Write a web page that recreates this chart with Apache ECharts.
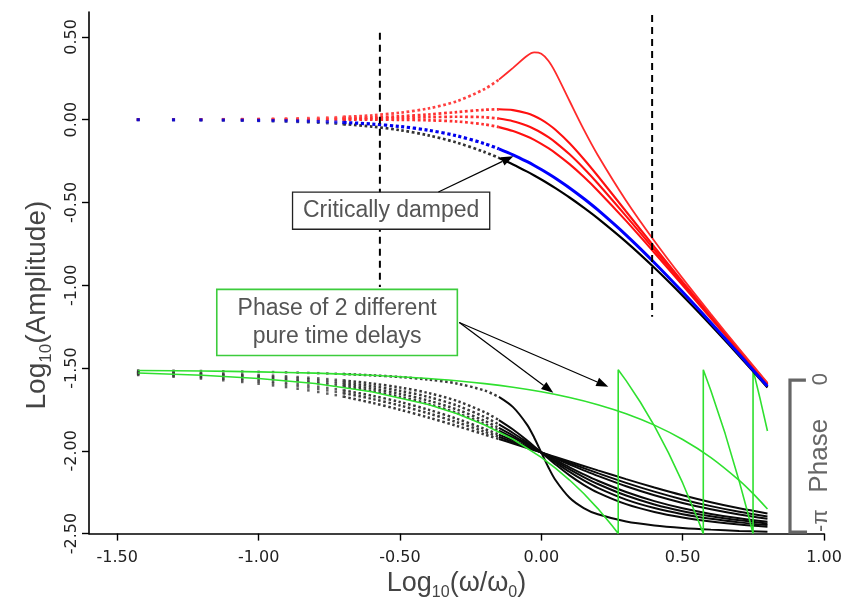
<!DOCTYPE html>
<html><head><meta charset="utf-8">
<script src="https://cdn.jsdelivr.net/npm/echarts@6/dist/echarts.min.js"></script>
<style>html,body{margin:0;padding:0;background:#fff}#c{width:846px;height:606px}</style>
</head><body><div id="c"></div>
<script>
// ---------- data ----------
const xTicks = [-1.5, -1.0, -0.5, 0, 0.5, 1.0];
const yTicks = [-2.5, -2.0, -1.5, -1.0, -0.5, 0, 0.5];

// sparse dotted region: log10(w/w0)
const sparseLogW = [-1.426, -1.301, -1.204, -1.125, -1.058, -1.0, -0.949, -0.903, -0.862, -0.824, -0.789, -0.757, -0.727, -0.699];
// dense region: log10(w/w0)
const lineLogW = [-0.7, -0.6, -0.5, -0.4, -0.3, -0.2, -0.15, -0.1, -0.05, -0.025, 0, 0.025, 0.05, 0.1, 0.15, 0.2, 0.3, 0.4, 0.5, 0.6, 0.7, 0.8];

// amplitude curves (red = under-damped, blue = critically damped, black = over-damped)
const ampRed1Sparse = [0.0006, 0.0010, 0.0016, 0.0022, 0.0031, 0.0040, 0.0051, 0.0063, 0.0076, 0.0091, 0.0107, 0.0124, 0.0142, 0.0162];
const ampRed1 = [0.0161, 0.0258, 0.0415, 0.0673, 0.1106, 0.1853, 0.2414, 0.3125, 0.3856, 0.4056, 0.3979, 0.3556, 0.2856, 0.1125, -0.0586, -0.2147, -0.4894, -0.7327, -0.9585, -1.1742, -1.3839, -1.5899];
const ampRed2Sparse = [0.0003, 0.0005, 0.0008, 0.0012, 0.0017, 0.0022, 0.0027, 0.0034, 0.0041, 0.0048, 0.0057, 0.0065, 0.0075, 0.0085];
const ampRed2 = [0.0085, 0.0132, 0.0205, 0.0311, 0.0453, 0.0595, 0.0625, 0.0576, 0.0387, 0.0221, 0.0000, -0.0279, -0.0613, -0.1424, -0.2375, -0.3405, -0.5548, -0.7689, -0.9795, -1.1868, -1.3915, -1.5946];
const ampRed3Sparse = [0.0002, 0.0003, 0.0005, 0.0007, 0.0009, 0.0012, 0.0015, 0.0019, 0.0022, 0.0026, 0.0031, 0.0035, 0.0040, 0.0046];
const ampRed3 = [0.0045, 0.0069, 0.0102, 0.0143, 0.0175, 0.0145, 0.0065, -0.0095, -0.0371, -0.0562, -0.0792, -0.1062, -0.1371, -0.2095, -0.2935, -0.3855, -0.5825, -0.7857, -0.9898, -1.1931, -1.3955, -1.5971];
const ampRed4Sparse = [0.0000, 0.0000, 0.0000, 0.0000, 0.0000, 0.0001, 0.0001, 0.0001, 0.0001, 0.0001, 0.0001, 0.0001, 0.0000, 0.0000];
const ampRed4 = [0.0000, -0.0003, -0.0013, -0.0040, -0.0112, -0.0289, -0.0452, -0.0688, -0.1019, -0.1226, -0.1461, -0.1726, -0.2019, -0.2688, -0.3452, -0.4289, -0.6112, -0.8040, -1.0013, -1.2003, -1.4000, -1.5999];
const ampBlueSparse = [-0.0006, -0.0011, -0.0017, -0.0024, -0.0033, -0.0043, -0.0055, -0.0067, -0.0081, -0.0097, -0.0113, -0.0131, -0.0150, -0.0170];
const ampBlue = [-0.0170, -0.0266, -0.0414, -0.0639, -0.0973, -0.1455, -0.1764, -0.2124, -0.2539, -0.2767, -0.3010, -0.3267, -0.3539, -0.4124, -0.4764, -0.5455, -0.6973, -0.8639, -1.0414, -1.2266, -1.4170, -1.6108];
const ampBlackSparse = [-0.0010, -0.0018, -0.0028, -0.0040, -0.0054, -0.0071, -0.0089, -0.0109, -0.0132, -0.0156, -0.0182, -0.0210, -0.0240, -0.0272];
const ampBlack = [-0.0270, -0.0417, -0.0634, -0.0947, -0.1382, -0.1962, -0.2312, -0.2704, -0.3139, -0.3373, -0.3617, -0.3873, -0.4139, -0.4704, -0.5312, -0.5962, -0.7382, -0.8947, -1.0634, -1.2417, -1.4270, -1.6174];

// phase curves (plotted on the same axis, 0 .. -pi)
const ph1Sparse = [-1.5148, -1.5164, -1.5180, -1.5196, -1.5212, -1.5229, -1.5245, -1.5262, -1.5278, -1.5295, -1.5312, -1.5329, -1.5347, -1.5365];
const ph1 = [-1.5364, -1.5440, -1.5545, -1.5695, -1.5933, -1.6364, -1.6744, -1.7363, -1.8434, -1.9208, -2.0100, -2.0992, -2.1766, -2.2837, -2.3456, -2.3836, -2.4267, -2.4505, -2.4656, -2.4760, -2.4836, -2.4893];
const ph2Sparse = [-1.5219, -1.5259, -1.5299, -1.5340, -1.5380, -1.5420, -1.5461, -1.5502, -1.5543, -1.5585, -1.5626, -1.5669, -1.5711, -1.5754];
const ph2 = [-1.5752, -1.5934, -1.6176, -1.6507, -1.6978, -1.7675, -1.8146, -1.8716, -1.9378, -1.9735, -2.0100, -2.0465, -2.0822, -2.1484, -2.2054, -2.2525, -2.3223, -2.3694, -2.4025, -2.4266, -2.4448, -2.4587];
const ph3Sparse = [-1.5243, -1.5291, -1.5339, -1.5387, -1.5436, -1.5484, -1.5533, -1.5581, -1.5630, -1.5680, -1.5729, -1.5779, -1.5829, -1.5880];
const ph3 = [-1.5878, -1.6091, -1.6370, -1.6744, -1.7254, -1.7962, -1.8410, -1.8924, -1.9495, -1.9795, -2.0100, -2.0405, -2.0705, -2.1276, -2.1790, -2.2238, -2.2946, -2.3457, -2.3830, -2.4109, -2.4322, -2.4487];
const ph4Sparse = [-1.5267, -1.5323, -1.5379, -1.5435, -1.5491, -1.5547, -1.5604, -1.5660, -1.5717, -1.5774, -1.5831, -1.5888, -1.5946, -1.6003];
const ph4 = [-1.6001, -1.6243, -1.6555, -1.6962, -1.7497, -1.8196, -1.8616, -1.9080, -1.9580, -1.9839, -2.0100, -2.0361, -2.0620, -2.1120, -2.1584, -2.2004, -2.2703, -2.3238, -2.3645, -2.3957, -2.4199, -2.4388];
const ph5Sparse = [-1.5291, -1.5355, -1.5418, -1.5482, -1.5546, -1.5610, -1.5674, -1.5738, -1.5802, -1.5866, -1.5931, -1.5995, -1.6060, -1.6124];
const ph5 = [-1.6122, -1.6390, -1.6730, -1.7162, -1.7709, -1.8389, -1.8780, -1.9201, -1.9644, -1.9871, -2.0100, -2.0329, -2.0556, -2.1000, -2.1420, -2.1811, -2.2491, -2.3038, -2.3470, -2.3810, -2.4078, -2.4290];
const ph6Sparse = [-1.5339, -1.5418, -1.5497, -1.5577, -1.5656, -1.5735, -1.5813, -1.5892, -1.5970, -1.6048, -1.6126, -1.6203, -1.6280, -1.6357];
const ph6 = [-1.6354, -1.6667, -1.7050, -1.7513, -1.8058, -1.8683, -1.9022, -1.9374, -1.9734, -1.9917, -2.0100, -2.0283, -2.0466, -2.0827, -2.1178, -2.1517, -2.2142, -2.2687, -2.3150, -2.3533, -2.3846, -2.4099];
const ph7Sparse = [-1.5374, -1.5465, -1.5556, -1.5647, -1.5737, -1.5827, -1.5916, -1.6005, -1.6093, -1.6180, -1.6267, -1.6353, -1.6438, -1.6522];
const ph7 = [-1.6519, -1.6859, -1.7264, -1.7734, -1.8266, -1.8849, -1.9154, -1.9466, -1.9782, -1.9941, -2.0100, -2.0259, -2.0418, -2.0734, -2.1046, -2.1351, -2.1934, -2.2466, -2.2937, -2.3341, -2.3681, -2.3961];
const ph8Sparse = [-1.5422, -1.5528, -1.5634, -1.5740, -1.5844, -1.5948, -1.6050, -1.6151, -1.6252, -1.6350, -1.6448, -1.6544, -1.6638, -1.6731];
const ph8 = [-1.6728, -1.7095, -1.7516, -1.7986, -1.8491, -1.9019, -1.9288, -1.9558, -1.9829, -1.9964, -2.0100, -2.0236, -2.0371, -2.0642, -2.0913, -2.1181, -2.1709, -2.2214, -2.2684, -2.3106, -2.3473, -2.3783];

// phase of two pure time delays (green)
const delay1LogW = [-1.426, -1.2, -1.0, -0.8, -0.6, -0.4, -0.3, -0.2, -0.1, 0, 0.1, 0.2, 0.3, 0.4, 0.5, 0.6, 0.7, 0.75, 0.8];
const delay1 = [-1.515, -1.5184, -1.5233, -1.5311, -1.5435, -1.5631, -1.5768, -1.5941, -1.6159, -1.6433, -1.6779, -1.7213, -1.776, -1.8449, -1.9316, -2.0408, -2.1783, -2.2598, -2.3513];
const delay2LogW = [-1.426, -1.2, -1.0, -0.8, -0.6, -0.4, -0.3, -0.2, -0.1, 0, 0.05, 0.1, 0.15, 0.2, 0.25, 0.272, 0.272, 0.3, 0.35, 0.4, 0.45, 0.5, 0.55, 0.573, 0.573, 0.6, 0.65, 0.7, 0.73, 0.749, 0.749, 0.775, 0.8];
const delay2 = [-1.5299, -1.5434, -1.5629, -1.5939, -1.643, -1.7208, -1.7753, -1.844, -1.9305, -2.0394, -2.104, -2.1765, -2.2578, -2.349, -2.4514, -2.5, -1.51, -1.5763, -1.7051, -1.8498, -2.012, -2.1941, -2.3983, -2.5, -1.51, -1.6376, -1.8947, -2.1833, -2.373, -2.5, -1.51, -1.6935, -1.8804];

// vertical dashed markers: [x, yTop, yBottom]
const markerLeft = [-0.571, 0.525, -1.011];
const markerRight = [0.392, 0.632, -1.191];

// ---------- chart ----------
const SPLIT_X = -0.15;
const FONT = '"Liberation Sans", Arial, sans-serif';
const TICKFONT = '"DejaVu Sans", sans-serif';
const series = [];

function addCurve(sparse, line, color, dotColor, w, dotSize) {
  series.push({
    type: 'scatter', silent: true, symbol: 'rect', symbolSize: dotSize,
    data: sparseLogW.map((x, i) => [x, sparse[i]]),
    itemStyle: { color: dotColor }
  });
  const pts = lineLogW.map((x, i) => [x, line[i]]);
  series.push({
    type: 'line', silent: true, symbol: 'none', smooth: 0.3,
    data: pts.filter(p => p[0] <= SPLIT_X),
    lineStyle: { color: dotColor, width: dotSize, type: [dotSize, 2.6], cap: 'butt' }
  });
  series.push({
    type: 'line', silent: true, symbol: 'none', smooth: 0.3,
    data: pts.filter(p => p[0] >= SPLIT_X),
    lineStyle: { color: color, width: w }
  });
}

// phase curves
[[ph1Sparse, ph1], [ph2Sparse, ph2], [ph3Sparse, ph3], [ph4Sparse, ph4],
 [ph5Sparse, ph5], [ph6Sparse, ph6], [ph7Sparse, ph7], [ph8Sparse, ph8]]
  .forEach(c => addCurve(c[0], c[1], '#0a0a0a', '#3a3a3a', 2.0, 2.5));

// green delays
series.push({
  type: 'line', silent: true, symbol: 'none', smooth: 0.3,
  data: delay1LogW.map((x, i) => [x, delay1[i]]),
  lineStyle: { color: '#2fe02f', width: 1.6 }
});
series.push({
  type: 'line', silent: true, symbol: 'none',
  data: delay2LogW.map((x, i) => [x, delay2[i]]),
  lineStyle: { color: '#2fe02f', width: 1.6 }
});

// amplitude curves
addCurve(ampRed4Sparse, ampRed4, '#ff1010', '#ff3030', 2.1, 2.7);
addCurve(ampRed3Sparse, ampRed3, '#ff1010', '#ff3030', 2.1, 2.7);
addCurve(ampRed2Sparse, ampRed2, '#ff1010', '#ff3030', 2.1, 2.7);
addCurve(ampRed1Sparse, ampRed1, '#ff2a2a', '#ff4040', 1.8, 2.7);
addCurve(ampBlackSparse, ampBlack, '#000', '#333', 2.2, 2.7);
addCurve(ampBlueSparse, ampBlue, '#0000ff', '#0000ee', 3.0, 3.2);

// dashed markers
[markerLeft, markerRight].forEach(m => {
  series.push({
    type: 'line', silent: true, symbol: 'none', z: 5,
    data: [[m[0], m[1]], [m[0], m[2]]],
    lineStyle: { color: '#000', width: 2, type: [7, 5] }
  });
});

const chart = echarts.init(document.getElementById('c'), null, { renderer: 'canvas' });
chart.setOption({
  animation: false,
  backgroundColor: '#fff',
  grid: { left: 89, right: 22, top: 12, bottom: 67, containLabel: false },
  xAxis: {
    type: 'value', min: -1.6, max: 1.0,
    splitLine: { show: false },
    axisLine: { onZero: false, lineStyle: { color: '#000', width: 1.6 } },
    axisTick: { customValues: xTicks, length: 7, lineStyle: { color: '#000', width: 1.4 } },
    axisLabel: { customValues: xTicks, formatter: v => v.toFixed(2), margin: 16,
      fontFamily: TICKFONT, fontSize: 16, color: '#222' },
    name: '{m|Log}{s|10}{m|(ω/ω}{s|0}{m|)}',
    nameLocation: 'middle', nameGap: 31,
    nameTextStyle: {
      rich: {
        m: { fontFamily: FONT, fontSize: 27, color: '#444' },
        s: { fontFamily: FONT, fontSize: 16, color: '#444', padding: [18, 0, 0, 0] }
      }
    }
  },
  yAxis: {
    type: 'value', min: -2.5, max: 0.65,
    splitLine: { show: false },
    axisLine: { onZero: false, lineStyle: { color: '#000', width: 1.6 } },
    axisTick: { customValues: yTicks, length: 7, lineStyle: { color: '#000', width: 1.4 } },
    axisLabel: { customValues: yTicks, formatter: v => v.toFixed(2), rotate: 90, margin: 9,
      fontFamily: TICKFONT, fontSize: 16, color: '#222' }
  },
  series: series
});

// ---------- annotations (anchored in data coordinates) ----------
const P = (x, y) => chart.convertToPixel({ gridIndex: 0 }, [x, y]);
const g = [];

function arrow(a, b) {
  const p0 = P(a[0], a[1]), p1 = P(b[0], b[1]);
  const dx = p1[0] - p0[0], dy = p1[1] - p0[1];
  const L = Math.hypot(dx, dy), ux = dx / L, uy = dy / L;
  const hl = 12, hw = 4.5;
  const bx = p1[0] - ux * hl, by = p1[1] - uy * hl;
  g.push({ type: 'line', z: 100, shape: { x1: p0[0], y1: p0[1], x2: bx, y2: by },
    style: { stroke: '#000', lineWidth: 1.2 } });
  g.push({ type: 'polygon', z: 100, shape: { points: [[p1[0], p1[1]], [bx - uy * hw, by + ux * hw], [bx + uy * hw, by - ux * hw]] },
    style: { fill: '#000' } });
}
function box(x1, y1, x2, y2, stroke, lw) {
  const a = P(x1, y1), b = P(x2, y2);
  g.push({ type: 'rect', z: 90, shape: { x: a[0], y: a[1], width: b[0] - a[0], height: b[1] - a[1] },
    style: { fill: '#fff', stroke: stroke, lineWidth: lw } });
}
function label(x, y, text, size, color, rot) {
  const p = P(x, y);
  g.push({ type: 'text', z: 101, x: p[0], y: p[1], rotation: rot || 0,
    style: { text: text, fill: color, font: size + 'px ' + FONT, align: 'center', verticalAlign: 'middle',
      textAlign: 'center', textVerticalAlign: 'middle' } });
}

// "Critically damped"
box(-0.880, -0.438, -0.1825, -0.662, '#222', 1.3);
label(-0.531, -0.552, 'Critically damped', 23, '#555');
arrow([-0.364, -0.4375], [-0.099, -0.221]);

// "Phase of 2 different pure time delays"
box(-1.148, -1.025, -0.297, -1.424, '#3ccc3c', 1.6);
label(-0.7225, -1.140, 'Phase of 2 different', 23, '#555');
label(-0.7225, -1.310, 'pure time delays', 23, '#555');
arrow([-0.290, -1.225], [0.0424, -1.649]);
arrow([-0.290, -1.225], [0.237, -1.613]);

// Phase bracket on the right
(function () {
  const t = P(0.8797, -1.573), b = P(0.8797, -2.491), te = P(0.936, -1.573), be = P(0.94, -2.491);
  g.push({ type: 'polyline', z: 100, shape: { points: [[te[0], t[1]], [t[0], t[1]], [b[0], b[1]], [be[0], b[1]]] },
    style: { stroke: '#666', lineWidth: 3.2, fill: null } });
})();
label(0.988, -1.567, '0', 22, '#666', Math.PI / 2);
label(0.986, -2.030, 'Phase', 26, '#666', Math.PI / 2);
label(0.990, -2.422, '-π', 22, '#666', Math.PI / 2);

// y-axis title
(function () {
  const p = P(-1.6, -1.12);
  g.push({ type: 'text', z: 101, x: p[0] - 52, y: p[1], rotation: Math.PI / 2,
    style: {
      text: '{m|Log}{s|10}{m|(Amplitude)}', align: 'center', verticalAlign: 'middle',
      textAlign: 'center', textVerticalAlign: 'middle',
      rich: {
        m: { fontFamily: FONT, fontSize: 28, fill: '#444', color: '#444' },
        s: { fontFamily: FONT, fontSize: 17, fill: '#444', color: '#444', padding: [18, 0, 0, 0] }
      }
    } });
})();

chart.setOption({ graphic: g });
</script></body></html>
